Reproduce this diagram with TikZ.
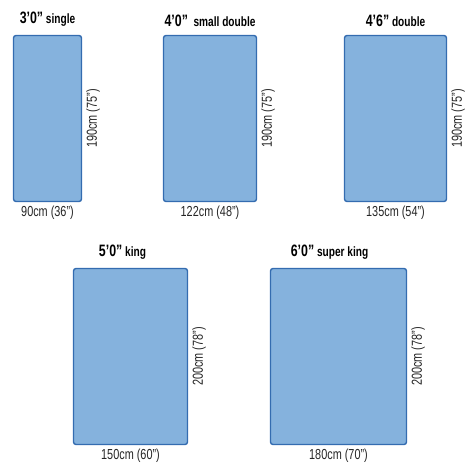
\documentclass[tikz,border=0pt]{standalone}
\usepackage{fontspec}
\setmainfont{Liberation Sans}[FakeStretch=0.75]
\usetikzlibrary{positioning}
\definecolor{bedfill}{RGB}{133,178,221}
\definecolor{bededge}{RGB}{52,108,176}
\newcommand{\feet}[1]{{\fontsize{16.5}{16}\selectfont #1}}

\begin{document}
\begin{tikzpicture}[x=1pt,y=-1pt,node distance=4pt]
\tikzset{
  bed/.style={draw=bededge,fill=bedfill,line width=1.4pt,rounded corners=2.5pt,inner sep=0pt},
  bedname/.style={font=\bfseries\fontsize{13.5}{14}\selectfont,inner sep=0pt},
  dim/.style={font=\fontsize{14.5}{15}\selectfont,inner sep=0pt,text=black!85},
  side/.style={dim,rotate=90,anchor=north}
}
\useasboundingbox[fill=white] (0,0) rectangle (474,474);

% top row
\node[bed,minimum width=68,minimum height=166] (single) at (47.5,118.5) {};
\node[bed,minimum width=93,minimum height=166] (smalldouble) at (210,118.5) {};
\node[bed,minimum width=102,minimum height=166] (double) at (395.5,118.5) {};
% bottom row
\node[bed,minimum width=114,minimum height=176] (king) at (130.5,356.5) {};
\node[bed,minimum width=136,minimum height=176] (superking) at (338.5,356.5) {};

% names
\node[bedname,above=8pt of single] (singlename) {\feet{3’0”} single};
\node[bedname,above=8pt of smalldouble] (smalldoublename) {\feet{4’0”}\ \ small double};
\node[bedname,above=8pt of double] (doublename) {\feet{4’6”} double};
\node[bedname,above=8pt of king,xshift=-8pt] (kingname) {\feet{5’0”} king};
\node[bedname,above=8pt of superking,xshift=-9pt] (superkingname) {\feet{6’0”} super king};

% widths
\node[dim,below=of single] (singlew) {90cm (36”)};
\node[dim,below=of smalldouble] (smalldoublew) {122cm (48”)};
\node[dim,below=of double] (doublew) {135cm (54”)};
\node[dim,below=of king] (kingw) {150cm (60”)};
\node[dim,below=of superking] (superkingw) {180cm (70”)};

% lengths
\node[right=of single,side] (singlel) {190cm (75”)};
\node[right=of smalldouble,side] (smalldoublel) {190cm (75”)};
\node[right=of double,side] (doublel) {190cm (75”)};
\node[right=of king,side] (kingl) {200cm (78”)};
\node[right=of superking,side] (superkingl) {200cm (78”)};
\end{tikzpicture}
\end{document}
